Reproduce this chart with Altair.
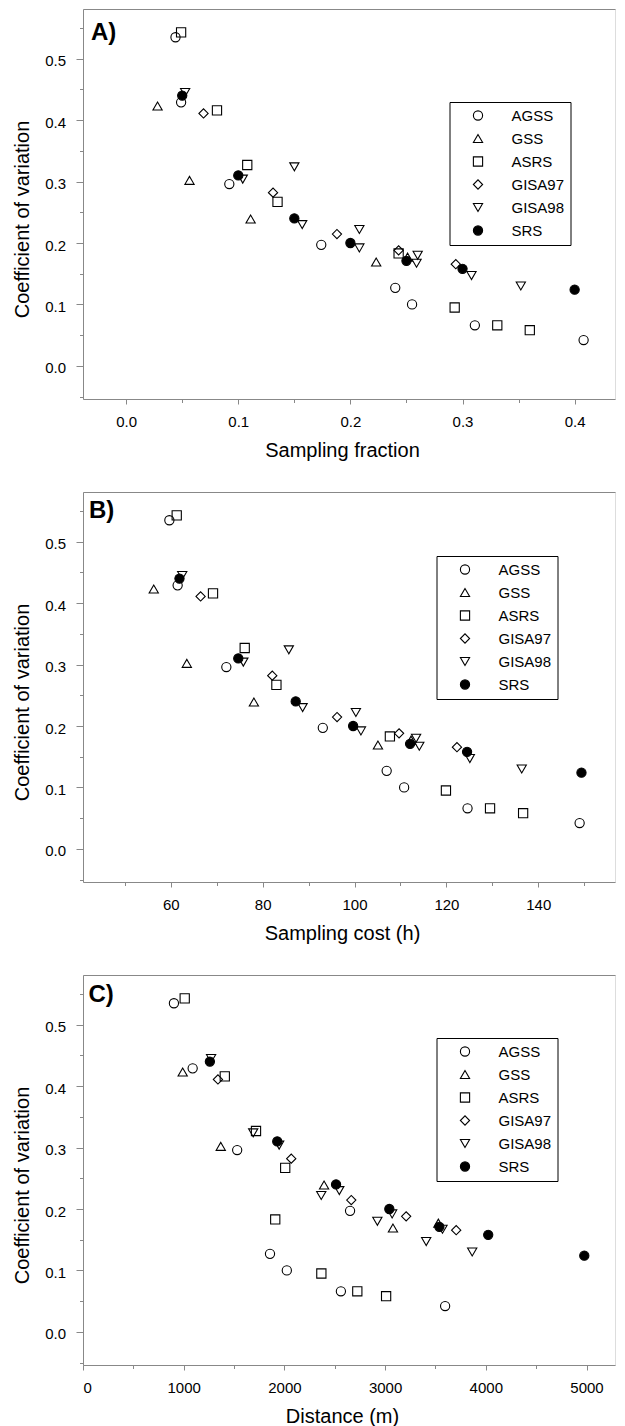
import altair as alt
import pandas as pd

methods = ["AGSS", "GSS", "ASRS", "GISA97", "GISA98", "SRS"]
shapes = ["circle", "triangle-up", "square", "diamond", "triangle-down", "circle"]
fills = ["transparent", "transparent", "transparent", "transparent", "transparent", "black"]
strokes = ["black", "black", "black", "black", "black", "black"]
panel_labels = ["A)", "B)", "C)"]

# coefficient of variation, sampling fraction, sampling cost (h), distance (m)
agss_cv = [0.535, 0.429, 0.296, 0.197, 0.127, 0.100, 0.066, 0.042]
agss_frac = [0.044, 0.049, 0.092, 0.174, 0.240, 0.255, 0.311, 0.408]
agss_cost = [59.7, 61.5, 72.1, 93.1, 107.0, 110.8, 124.6, 149.0]
agss_dist = [903, 1089, 1531, 2652, 1857, 2024, 2561, 3596]

gss_cv = [0.423, 0.302, 0.239, 0.169, 0.177]
gss_frac = [0.028, 0.0565, 0.111, 0.223, 0.251]
gss_cost = [56.3, 63.5, 78.1, 105.1, 112.3]
gss_dist = [990, 1368, 2394, 3078, 3529]

asrs_cv = [0.543, 0.416, 0.327, 0.267, 0.183, 0.095, 0.066, 0.058]
asrs_frac = [0.049, 0.081, 0.108, 0.135, 0.243, 0.293, 0.331, 0.360]
asrs_cost = [61.3, 69.2, 76.1, 83.0, 107.7, 119.9, 129.5, 136.7]
asrs_dist = [1010, 1408, 1718, 2008, 1909, 2367, 2724, 3010]

gisa97_cv = [0.411, 0.282, 0.2145, 0.188, 0.1655]
gisa97_frac = [0.069, 0.131, 0.188, 0.243, 0.294]
gisa97_cost = [66.5, 82.1, 96.2, 109.7, 122.3]
gisa97_dist = [1340, 2068, 2664, 3209, 3706]

gisa98_cv = [0.445, 0.304, 0.324, 0.230, 0.222, 0.192, 0.180, 0.167, 0.147, 0.130]
gisa98_frac = [0.0526, 0.104, 0.150, 0.157, 0.208, 0.208, 0.260, 0.259, 0.308, 0.352]
gisa98_cost = [62.5, 75.8, 85.7, 88.7, 100.3, 101.4, 113.4, 114.1, 125.1, 136.4]
gisa98_dist = [1272, 1948, 1690, 2545, 2366, 3070, 2923, 3570, 3408, 3865]

srs_cv = [0.440, 0.310, 0.240, 0.200, 0.171, 0.158, 0.124]
srs_frac = [0.05, 0.10, 0.15, 0.20, 0.25, 0.30, 0.40]
srs_cost = [61.9, 74.7, 87.2, 99.7, 112.1, 124.5, 149.4]
srs_dist = [1260, 1929, 2513, 3042, 3539, 4024, 4978]

y_ticks = [-0.05, 0.0, 0.05, 0.1, 0.15, 0.2, 0.25, 0.3, 0.35, 0.4, 0.45, 0.5, 0.55]
frac_ticks = [0.0, 0.05, 0.1, 0.15, 0.2, 0.25, 0.3, 0.35, 0.4]
cost_ticks = [50, 60, 70, 80, 90, 100, 110, 120, 130, 140, 150]
dist_ticks = [0, 500, 1000, 1500, 2000, 2500, 3000, 3500, 4000, 4500, 5000]

series = [
    ("AGSS", agss_cv, agss_frac, agss_cost, agss_dist),
    ("GSS", gss_cv, gss_frac, gss_cost, gss_dist),
    ("ASRS", asrs_cv, asrs_frac, asrs_cost, asrs_dist),
    ("GISA97", gisa97_cv, gisa97_frac, gisa97_cost, gisa97_dist),
    ("GISA98", gisa98_cv, gisa98_frac, gisa98_cost, gisa98_dist),
    ("SRS", srs_cv, srs_frac, srs_cost, srs_dist),
]
rows = []
for name, cv, fr, co, di in series:
    for a, b, c, d in zip(cv, fr, co, di):
        rows.append({"method": name, "cv": a, "frac": b, "cost": c, "dist": d})
df = pd.DataFrame(rows)

FONT = "Liberation Sans"
W, H = 532, 390


def panel(xfield, xtitle, xdomain, xticks, minor_test, fmt, label, lx, ly, legx, legy):
    major = "(" + minor_test + ") ? '' : datum.label"
    xscale = alt.Scale(domain=xdomain, nice=False, zero=False)
    legend = alt.Legend(
        title=None, orient="none", legendX=legx, legendY=legy, direction="vertical",
        strokeColor="black", fillColor="white", padding=6, symbolOffset=15,
        labelOffset=26, rowPadding=7, labelFontSize=15, labelFont=FONT,
        labelColor="black", symbolSize=85, symbolStrokeWidth=1.1,
        labelExpr="datum.label + '  '",
    )
    pts = alt.Chart(df).mark_point(size=85, strokeWidth=1.1, opacity=1).encode(
        x=alt.X(
            f"{xfield}:Q", scale=xscale,
            axis=alt.Axis(
                values=xticks, format=fmt, labelExpr=major,
                tickSize={"condition": {"test": minor_test, "value": 3.5}, "value": 5},
                labelPadding=10, labelFontSize=15, title=xtitle, titleFontSize=20,
                titleFontWeight="normal", titleBaseline="top", titleY=41, titleX=259,
                grid=False,
            ),
        ),
        y=alt.Y(
            "cv:Q", scale=alt.Scale(domain=[-0.054, 0.581], nice=False, zero=False),
            axis=alt.Axis(
                values=y_ticks, format=".1f",
                labelExpr="(round(datum.value*100) % 10 != 0) ? '' : datum.label",
                tickSize={"condition": {"test": "round(datum.value*100) % 10 != 0", "value": 3.5}, "value": 7},
                labelPadding=10.5, labelFontSize=15, labelOffset=2,
                title="Coefficient of variation", titleFontSize=20, titleFontWeight="normal",
                titleAngle=270, titleBaseline="bottom", titleX=-51, titleY=210, grid=False,
            ),
        ),
        shape=alt.Shape("method:N", scale=alt.Scale(domain=methods, range=shapes), legend=legend),
        fill=alt.Fill("method:N", scale=alt.Scale(domain=methods, range=fills), legend=legend),
        stroke=alt.Stroke("method:N", scale=alt.Scale(domain=methods, range=strokes), legend=legend),
    )
    top = alt.Chart(df).mark_point(opacity=0).encode(
        x=alt.X(
            f"{xfield}:Q", scale=xscale,
            axis=alt.Axis(orient="top", labels=False, ticks=False, domain=True, title=None, grid=False),
        )
    )
    lab = alt.Chart(pd.DataFrame({"label": [label]})).mark_text(
        align="left", baseline="top", fontSize=24, fontWeight="bold", font=FONT, color="black"
    ).encode(x=alt.value(lx), y=alt.value(ly), text="label:N")
    return alt.layer(pts, top, lab).resolve_axis(x="independent").properties(width=W, height=H)


pA = panel("frac", "Sampling fraction", [-0.0385, 0.436], frac_ticks,
           "round(datum.value*100) % 10 != 0", ".1f", panel_labels[0], 8, 12, 366.5, 93)
pB = panel("cost", "Sampling cost (h)", [40.9, 156.7], cost_ticks,
           "datum.value % 20 != 0", "d", panel_labels[1], 6, 6.5, 353.5, 64)
pC = panel("dist", "Distance (m)", [0, 5283], dist_ticks,
           "datum.value % 1000 != 0", "d", panel_labels[2], 5.5, 7.5, 353.5, 63)

chart = (
    alt.vconcat(pA, pB, pC, spacing=30)
    .resolve_scale(shape="independent", fill="independent", stroke="independent")
    .resolve_legend(shape="independent", fill="independent", stroke="independent")
    .properties(padding={"left": 3, "top": 0, "right": 0, "bottom": 0}, background="white")
    .configure_view(stroke=None)
    .configure_axis(
        domainColor="black", domainWidth=1.5, tickColor="black", tickWidth=1.2,
        labelColor="black", titleColor="black", labelFont=FONT, titleFont=FONT,
    )
    .configure(font=FONT)
)

chart.save("out.html", embed_options={"renderer": "svg", "actions": False})
